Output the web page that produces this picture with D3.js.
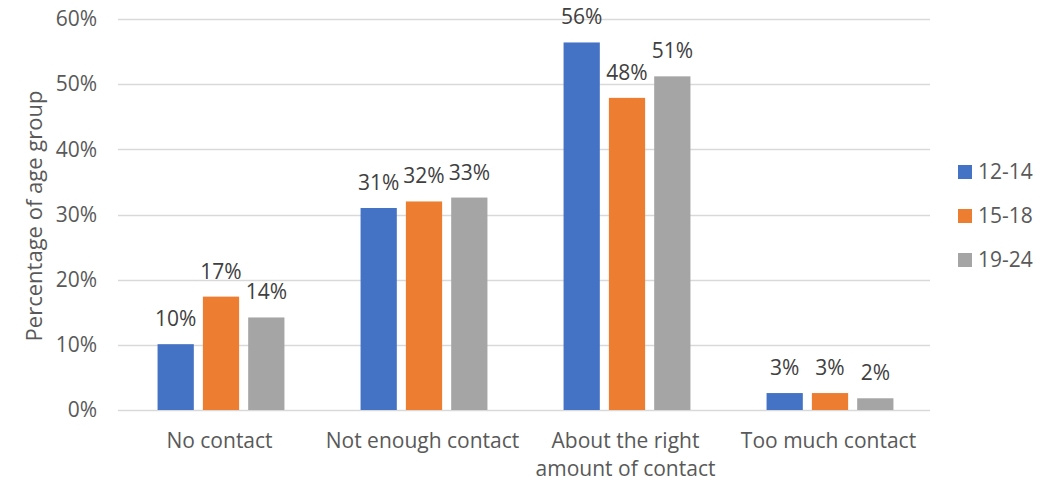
<!DOCTYPE html>
<html>
<head>
<meta charset="utf-8">
<script src="https://cdn.jsdelivr.net/npm/d3@7"></script>
<style>
  body { margin: 0; background: #fff; }
  text { font-family: "Open Sans", sans-serif; }
</style>
</head>
<body>
<svg width="1063" height="484"></svg>
<script>
var categories = ["No contact", "Not enough contact", "About the right amount of contact", "Too much contact"];
var categoryLines = [["No contact"], ["Not enough contact"], ["About the right", "amount of contact"], ["Too much contact"]];
var seriesNames = ["12-14", "15-18", "19-24"];
var colors = ["#4472c4", "#ed7d31", "#a5a5a5"];
var values1214 = [0.101, 0.310, 0.564, 0.026];
var values1518 = [0.174, 0.320, 0.479, 0.026];
var values1924 = [0.142, 0.326, 0.512, 0.018];
var yTicks = [0, 0.1, 0.2, 0.3, 0.4, 0.5, 0.6];

var seriesValues = [values1214, values1518, values1924];

var svg = d3.select("svg"),
  plotLeft = 118,
  plotRight = 930,
  plotTop = 19,
  plotBottom = 410;

var x0 = d3.scaleBand().domain(categories).range([plotLeft, plotRight]);
var x1 = d3
  .scaleBand()
  .domain(seriesNames)
  .range([1.5, x0.bandwidth() + 1.5])
  .paddingInner(0.2)
  .paddingOuter(0.84);
var y = d3.scaleLinear().domain([0, 0.6]).range([plotBottom, plotTop]);
var pct = d3.format(".0%");

// gridlines
svg
  .append("g")
  .selectAll("line")
  .data(yTicks)
  .enter()
  .append("line")
  .attr("x1", plotLeft)
  .attr("x2", plotRight)
  .attr("y1", (d) => Math.round(y(d)) + 0.5)
  .attr("y2", (d) => Math.round(y(d)) + 0.5)
  .style("stroke", "#d9d9d9")
  .style("stroke-width", 1.3);

// y axis labels
var yAxis = svg
  .append("g")
  .attr("transform", "translate(" + (plotLeft - 21) + ",0)")
  .call(d3.axisLeft(y).tickValues(yTicks).tickFormat(pct).tickSize(0).tickPadding(0));
yAxis.select(".domain").remove();
yAxis
  .selectAll("text")
  .style("font-size", "21px")
  .style("fill", "#595959")
  .style("font-family", "'Open Sans', sans-serif");

// axis title
svg
  .append("text")
  .attr("transform", "translate(42,216) rotate(-90)")
  .attr("text-anchor", "middle")
  .style("font-size", "22px")
  .style("fill", "#595959")
  .text("Percentage of age group");

// bars
var groups = svg
  .append("g")
  .selectAll("g")
  .data(categories)
  .enter()
  .append("g")
  .attr("transform", (d) => "translate(" + x0(d) + ",0)");

var bars = groups
  .selectAll("g")
  .data((d, i) =>
    seriesNames.map((s, j) => ({ series: s, value: seriesValues[j][i], color: colors[j] }))
  )
  .enter()
  .append("g");

bars
  .append("rect")
  .attr("x", (d) => x1(d.series))
  .attr("width", x1.bandwidth())
  .attr("y", (d) => y(d.value))
  .attr("height", (d) => plotBottom - y(d.value))
  .style("fill", (d) => d.color);

bars
  .append("text")
  .attr("x", (d) => x1(d.series) + x1.bandwidth() / 2)
  .attr("y", (d) => y(d.value) - 18)
  .attr("text-anchor", "middle")
  .style("font-size", "21px")
  .style("fill", "#404040")
  .text((d) => pct(d.value));

// category labels
svg
  .append("g")
  .selectAll("text")
  .data(categories)
  .enter()
  .append("text")
  .attr("x", (d) => x0(d) + x0.bandwidth() / 2)
  .attr("y", 448)
  .attr("text-anchor", "middle")
  .style("font-size", "21px")
  .style("fill", "#595959")
  .each(function (d, i) {
    var t = d3.select(this);
    categoryLines[i].forEach(function (line, k) {
      t.append("tspan")
        .attr("x", x0(d) + x0.bandwidth() / 2)
        .attr("dy", k === 0 ? 0 : 28)
        .text(line);
    });
  });

// legend
var legend = svg
  .append("g")
  .selectAll("g")
  .data(seriesNames)
  .enter()
  .append("g")
  .attr("transform", (d, i) => "translate(958," + (165 + i * 44) + ")");

legend
  .append("rect")
  .attr("width", 14)
  .attr("height", 14)
  .style("fill", (d, i) => colors[i]);

legend
  .append("text")
  .attr("x", 20)
  .attr("y", 14)
  .style("font-size", "21px")
  .style("fill", "#595959")
  .text((d) => d);
</script>
</body>
</html>
